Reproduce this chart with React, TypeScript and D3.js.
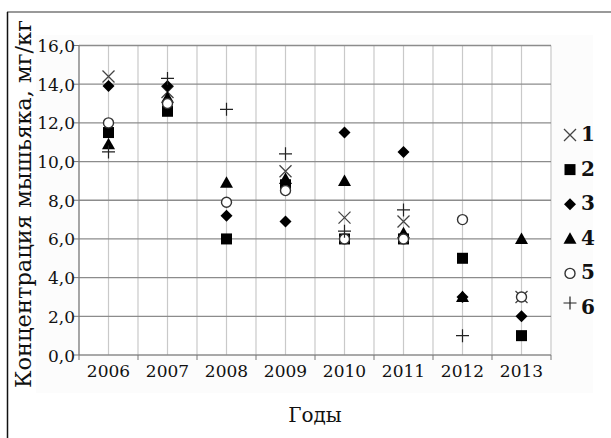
import React, { useEffect, useRef } from "react";
import * as d3 from "d3";

const years = ["2006", "2007", "2008", "2009", "2010", "2011", "2012", "2013"];
const yTicks = [0, 2, 4, 6, 8, 10, 12, 14, 16];

// series 1..6 (null = point not shown)
const s1 = [14.4, 13.6, null, 9.5, 7.1, 6.9, null, 3.0];
const s2 = [11.5, 12.6, 6.0, 8.8, 6.0, 6.0, 5.0, 1.0];
const s3 = [13.9, 13.9, 7.2, 6.9, 11.5, 10.5, 3.0, 2.0];
const s4 = [10.9, 13.3, 8.9, 9.1, 9.0, 6.3, 3.0, 6.0];
const s5 = [12.0, 13.0, 7.9, 8.5, 6.0, 6.0, 7.0, 3.0];
const s6 = [10.5, 14.3, 12.7, 10.4, 6.4, 7.5, 1.0, null];

const seriesNames = ["1", "2", "3", "4", "5", "6"];
const seriesKinds = ["cross", "square", "diamond", "triangle", "circle", "plus"];

const W = 611;
const H = 438;
const FONT = "'DejaVu Serif', serif";

function drawMarker(g: d3.Selection<SVGGElement, unknown, null, undefined>, kind: string, cx: number, cy: number) {
  if (kind === "square") {
    g.append("rect").attr("x", cx - 5.5).attr("y", cy - 5.5).attr("width", 11).attr("height", 11).attr("fill", "#000");
  } else if (kind === "diamond") {
    g.append("path")
      .attr("d", `M${cx},${cy - 6}L${cx + 6},${cy}L${cx},${cy + 6}L${cx - 6},${cy}Z`)
      .attr("fill", "#000");
  } else if (kind === "triangle") {
    g.append("path")
      .attr("d", `M${cx},${cy - 6.5}L${cx + 6.5},${cy + 5}L${cx - 6.5},${cy + 5}Z`)
      .attr("fill", "#000");
  } else if (kind === "circle") {
    g.append("circle").attr("cx", cx).attr("cy", cy).attr("r", 5)
      .attr("fill", "#fff").attr("stroke", "#333").attr("stroke-width", 1.4);
  } else if (kind === "cross") {
    g.append("path")
      .attr("d", `M${cx - 6},${cy - 6}L${cx + 6},${cy + 6}M${cx + 6},${cy - 6}L${cx - 6},${cy + 6}`)
      .attr("stroke", "#444").attr("stroke-width", 1.3).attr("fill", "none");
  } else if (kind === "plus") {
    g.append("path")
      .attr("d", `M${cx - 6.5},${cy}L${cx + 6.5},${cy}M${cx},${cy - 6.5}L${cx},${cy + 6.5}`)
      .attr("stroke", "#222").attr("stroke-width", 1.2).attr("fill", "none");
  }
}

const App: React.FC = () => {
  const svgRef = useRef<SVGSVGElement>(null);

  useEffect(() => {
    if (!svgRef.current) return;
    const svg = d3.select(svgRef.current);
    svg.selectAll("*").remove();

    const margin = { top: 45.5, left: 79, right: 60, bottom: 83 };
    const x = d3.scaleBand().domain(years).range([margin.left, W - margin.right]).padding(0);
    const y = d3.scaleLinear().domain([0, 16]).range([H - margin.bottom, margin.top]);
    const bw = x.bandwidth();

    // frame
    svg.append("rect").attr("width", W).attr("height", H).attr("fill", "#fff");
    svg.append("rect").attr("x", 36).attr("y", 35).attr("width", 557).attr("height", 358).attr("fill", "#fcfcfc");
    svg.append("line").attr("x1", 7).attr("x2", W).attr("y1", 12).attr("y2", 12).attr("stroke", "#777").attr("stroke-width", 1.5);
    svg.append("line").attr("x1", 7.5).attr("x2", 7.5).attr("y1", 12).attr("y2", H).attr("stroke", "#111").attr("stroke-width", 1.5);

    const plot = svg.append("g");
    plot.append("rect")
      .attr("x", margin.left).attr("y", margin.top)
      .attr("width", W - margin.right - margin.left).attr("height", y(0) - margin.top)
      .attr("fill", "#fff");

    // vertical gridlines: band centers and boundaries
    const vLines: number[] = [];
    years.forEach((yr) => {
      vLines.push((x(yr) as number) + bw / 2);
      vLines.push((x(yr) as number) + bw);
    });
    plot.selectAll(".vg").data(vLines).enter().append("line")
      .attr("x1", (d) => d).attr("x2", (d) => d)
      .attr("y1", margin.top).attr("y2", y(0))
      .attr("stroke", "#c9c9c9").attr("stroke-width", 1.2);

    // horizontal gridlines
    plot.selectAll(".hg").data(yTicks).enter().append("line")
      .attr("x1", margin.left).attr("x2", W - margin.right)
      .attr("y1", (d) => y(d)).attr("y2", (d) => y(d))
      .attr("stroke", "#8c8c8c").attr("stroke-width", 1.3);

    // axes
    plot.append("line").attr("x1", margin.left).attr("x2", margin.left)
      .attr("y1", margin.top).attr("y2", y(0)).attr("stroke", "#777").attr("stroke-width", 1.3);
    plot.selectAll(".yt").data(yTicks).enter().append("line")
      .attr("x1", margin.left - 5).attr("x2", margin.left)
      .attr("y1", (d) => y(d)).attr("y2", (d) => y(d)).attr("stroke", "#777");
    const xb = [margin.left, ...years.map((yr) => (x(yr) as number) + bw)];
    plot.selectAll(".xt").data(xb).enter().append("line")
      .attr("x1", (d) => d).attr("x2", (d) => d)
      .attr("y1", y(0)).attr("y2", y(0) + 5).attr("stroke", "#777");

    plot.selectAll(".yl").data(yTicks).enter().append("text")
      .attr("x", margin.left - 4).attr("y", (d) => y(d) + 6.5)
      .attr("text-anchor", "end").attr("font-family", FONT).attr("font-size", 17).attr("fill", "#111")
      .text((d) => d3.format(".1f")(d).replace(".", ","));

    plot.selectAll(".xl").data(years).enter().append("text")
      .attr("x", (d) => (x(d) as number) + bw / 2).attr("y", y(0) + 22)
      .attr("text-anchor", "middle").attr("font-family", FONT).attr("font-size", 17).attr("fill", "#111")
      .text((d) => d);

    svg.append("text")
      .attr("transform", "translate(31,204) rotate(-90)")
      .attr("text-anchor", "middle").attr("font-family", FONT).attr("font-size", 22).attr("fill", "#111")
      .attr("textLength", 368).attr("lengthAdjust", "spacingAndGlyphs")
      .text("Концентрация мышьяка, мг/кг");

    svg.append("text")
      .attr("x", 315).attr("y", 422)
      .attr("text-anchor", "middle").attr("font-family", FONT).attr("font-size", 20).attr("fill", "#111")
      .text("Годы");

    // points
    const allSeries = [s1, s2, s3, s4, s5, s6];
    const pts = svg.append("g");
    allSeries.forEach((vals, i) => {
      vals.forEach((v, j) => {
        if (v === null) return;
        drawMarker(pts, seriesKinds[i], (x(years[j]) as number) + bw / 2, y(v));
      });
    });

    // legend
    const lg = svg.append("g");
    const ly = d3.scaleLinear().domain([0, 5]).range([135, 308]);
    seriesNames.forEach((name, i) => {
      const cy = ly(i);
      drawMarker(lg, seriesKinds[i], 570, cy + (i === 5 ? -5 : 0));
      lg.append("text")
        .attr("x", 581).attr("y", cy + 6)
        .attr("font-family", FONT).attr("font-weight", "bold").attr("font-size", 20).attr("fill", "#111")
        .text(name);
    });
  }, []);

  return (
    <svg ref={svgRef} width={W} height={H} style={{ position: "absolute", left: 0, top: 0 }} />
  );
};

export default App;
